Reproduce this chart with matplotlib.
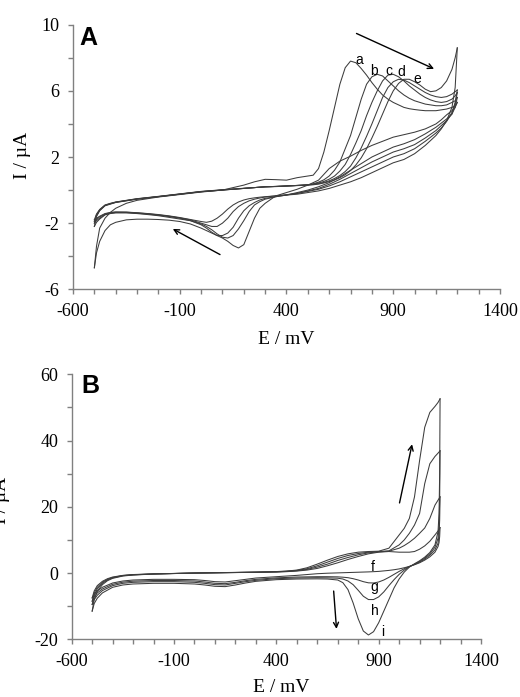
import matplotlib
matplotlib.use("Agg")
import matplotlib.pyplot as plt
from matplotlib.ticker import FixedLocator

plt.rcParams["font.family"] = ["Liberation Serif", "DejaVu Serif"]
plt.rcParams["axes.unicode_minus"] = False

# ---------------- Panel A data ----------------
E_fwd_A = [-500, -490, -475, -450, -425, -400, -350, -300, -200, -100, 0, 100, 200, 250, 300, 350, 400, 450, 500,
           525, 550, 575, 600, 625, 650, 675, 700, 725, 750, 775, 800, 825, 850, 875, 900, 925, 950, 975, 1000,
           1025, 1050, 1075, 1100, 1125, 1150, 1175, 1190, 1200]
I_fwd_a = [-4.7, -3.4, -2.3, -1.7, -1.35, -1.1, -0.8, -0.62, -0.42, -0.27, -0.12, 0.0, 0.3, 0.5, 0.65, 0.63, 0.6, 0.75, 0.85,
           0.9, 1.3, 2.3, 3.6, 5.0, 6.4, 7.4, 7.8, 7.7, 7.35, 6.95, 6.5, 6.1, 5.75, 5.5, 5.3, 5.15, 5.0, 4.92, 4.87,
           4.83, 4.8, 4.8, 4.8, 4.85, 4.9, 5.0, 5.1, 5.3]
I_fwd_b = [-2.2, -1.6, -1.25, -0.95, -0.85, -0.75, -0.65, -0.55, -0.4, -0.25, -0.1, 0.0, 0.1, 0.15, 0.2, 0.22, 0.25, 0.28, 0.32,
           0.38, 0.48, 0.62, 0.85, 1.2, 1.7, 2.5, 3.3, 4.4, 5.5, 6.4, 6.85, 7.0, 6.9, 6.6, 6.3, 6.0, 5.75, 5.55, 5.4,
           5.3, 5.2, 5.15, 5.1, 5.1, 5.15, 5.3, 5.4, 5.6]
I_fwd_c = [-2.0, -1.55, -1.22, -0.93, -0.83, -0.74, -0.64, -0.54, -0.4, -0.25, -0.1, 0.0, 0.1, 0.15, 0.2, 0.22, 0.25, 0.28, 0.32,
           0.36, 0.43, 0.52, 0.66, 0.85, 1.15, 1.55, 2.15, 2.85, 3.6, 4.5, 5.3, 6.0, 6.6, 6.95, 7.0, 6.85, 6.6, 6.3, 6.05,
           5.8, 5.6, 5.45, 5.35, 5.3, 5.35, 5.5, 5.7, 5.9]
I_fwd_d = [-1.9, -1.5, -1.2, -0.92, -0.82, -0.73, -0.63, -0.53, -0.39, -0.24, -0.09, 0.01, 0.1, 0.15, 0.2, 0.22, 0.25, 0.28, 0.31,
           0.34, 0.39, 0.46, 0.56, 0.7, 0.88, 1.12, 1.45, 1.95, 2.55, 3.25, 4.0, 4.8, 5.6, 6.2, 6.55, 6.7, 6.65, 6.5, 6.3,
           6.1, 5.9, 5.75, 5.65, 5.6, 5.65, 5.8, 5.95, 6.05]
I_fwd_e = [-1.8, -1.45, -1.17, -0.9, -0.8, -0.72, -0.62, -0.52, -0.38, -0.23, -0.08, 0.02, 0.11, 0.15, 0.19, 0.21, 0.24, 0.27, 0.3,
           0.32, 0.36, 0.43, 0.51, 0.61, 0.75, 0.93, 1.18, 1.52, 1.95, 2.5, 3.15, 3.85, 4.6, 5.35, 6.0, 6.45, 6.7, 6.7, 6.55,
           6.35, 6.1, 5.95, 6.0, 6.2, 6.6, 7.3, 8.0, 8.6]

E_rev_A = [1200, 1190, 1175, 1150, 1125, 1100, 1050, 1000, 950, 900, 850, 800, 750, 700, 650, 600, 550, 500, 450, 400,
           350, 300, 275, 250, 225, 200, 175, 150, 125, 100, 75, 50, 25, 0, -50, -100, -150, -200, -250, -300, -350,
           -400, -425, -450, -475, -490, -500]
I_rev_a = [5.3, 5.0, 4.8, 4.55, 4.25, 4.0, 3.7, 3.5, 3.35, 3.2, 2.95, 2.7, 2.4, 2.05, 1.75, 1.3, 0.6, 0.3, 0.05, -0.15,
           -0.35, -0.8, -1.1, -1.7, -2.5, -3.3, -3.5, -3.35, -3.1, -2.9, -2.75, -2.6, -2.45, -2.3, -2.05, -1.9, -1.82,
           -1.78, -1.76, -1.76, -1.8, -1.95, -2.1, -2.45, -3.1, -3.8, -4.7]
I_rev_b = [5.6, 5.0, 4.6, 4.3, 4.05, 3.8, 3.4, 3.05, 2.8, 2.6, 2.3, 2.0, 1.6, 1.2, 0.8, 0.45, 0.2, 0.0, -0.15, -0.3,
           -0.4, -0.55, -0.7, -0.9, -1.3, -1.85, -2.35, -2.75, -2.9, -2.85, -2.65, -2.4, -2.2, -2.05, -1.85, -1.75,
           -1.65, -1.55, -1.48, -1.42, -1.38, -1.38, -1.42, -1.5, -1.75, -1.95, -2.2]
I_rev_c = [5.9, 5.2, 4.6, 4.2, 3.9, 3.6, 3.15, 2.75, 2.5, 2.3, 2.0, 1.7, 1.35, 1.0, 0.65, 0.35, 0.1, -0.05, -0.2, -0.3,
           -0.4, -0.5, -0.6, -0.75, -0.95, -1.25, -1.7, -2.25, -2.6, -2.75, -2.75, -2.55, -2.3, -2.1, -1.85, -1.7,
           -1.6, -1.52, -1.45, -1.4, -1.36, -1.36, -1.4, -1.48, -1.7, -1.85, -2.0]
I_rev_d = [6.05, 5.3, 4.7, 4.15, 3.75, 3.45, 2.95, 2.5, 2.2, 2.0, 1.7, 1.4, 1.1, 0.8, 0.5, 0.25, 0.05, -0.08, -0.2, -0.28,
           -0.35, -0.42, -0.48, -0.55, -0.65, -0.8, -1.0, -1.3, -1.7, -2.0, -2.2, -2.2, -2.1, -2.0, -1.8, -1.68,
           -1.58, -1.5, -1.43, -1.38, -1.34, -1.34, -1.37, -1.45, -1.62, -1.78, -1.9]
I_rev_e = [8.6, 6.2, 5.0, 4.2, 3.7, 3.3, 2.7, 2.2, 1.85, 1.65, 1.35, 1.05, 0.75, 0.5, 0.3, 0.1, -0.05, -0.15, -0.25, -0.3,
           -0.35, -0.4, -0.43, -0.47, -0.52, -0.6, -0.72, -0.9, -1.15, -1.45, -1.7, -1.88, -1.95, -1.9, -1.78, -1.66,
           -1.56, -1.48, -1.42, -1.37, -1.33, -1.32, -1.35, -1.42, -1.58, -1.7, -1.8]

labels_A = ["a", "b", "c", "d", "e"]
label_E_A = [741, 809, 878, 939, 1012]
label_I_A = [7.86, 7.22, 7.22, 7.16, 6.7]
xticks = [-600, -100, 400, 900, 1400]
yticks_A = [-6, -2, 2, 6, 10]

# ---------------- Panel B data ----------------
E_fwd_B = [-500, -490, -475, -450, -425, -400, -350, -300, -200, -100, 0, 100, 200, 300, 400, 450, 500, 550, 600, 650,
           700, 750, 800, 850, 900, 950, 1000, 1025, 1050, 1075, 1100, 1125, 1150, 1175, 1190, 1200]
I_fwd_f = [-7.5, -5.4, -3.8, -2.5, -1.7, -1.2, -0.7, -0.45, -0.25, -0.12, 0.0, 0.08, 0.15, 0.22, 0.32, 0.42, 0.6, 0.9, 1.4, 2.2,
           3.1, 4.1, 5.0, 5.8, 6.3, 6.5, 6.3, 6.3, 6.3, 6.5, 7.2, 8.2, 9.6, 11.5, 12.7, 13.7]
I_fwd_g = [-8.5, -6.0, -4.3, -2.8, -1.9, -1.35, -0.75, -0.5, -0.27, -0.13, 0.0, 0.08, 0.16, 0.24, 0.35, 0.48, 0.7, 1.1, 1.8, 2.7,
           3.8, 4.7, 5.5, 6.1, 6.4, 6.6, 7.5, 8.3, 9.3, 10.5, 12.0, 13.6, 16.5, 20.5, 22.0, 23.0]
I_fwd_h = [-9.5, -6.8, -4.8, -3.1, -2.1, -1.45, -0.8, -0.55, -0.28, -0.14, 0.0, 0.09, 0.17, 0.26, 0.38, 0.55, 0.8, 1.3, 2.2, 3.3,
           4.4, 5.3, 5.9, 6.3, 6.5, 6.7, 8.5, 10.0, 12.0, 14.5, 18.0, 27.0, 33.0, 35.2, 36.2, 36.9]
I_fwd_i = [-11.5, -8.0, -5.5, -3.5, -2.3, -1.6, -0.9, -0.6, -0.3, -0.15, 0.0, 0.1, 0.2, 0.3, 0.45, 0.6, 0.9, 1.6, 2.7, 3.9,
           5.0, 5.8, 6.3, 6.5, 6.6, 7.5, 11.5, 13.5, 16.5, 23.0, 34.0, 44.0, 48.5, 50.3, 51.5, 52.6]

E_rev_B = [1200, 1198, 1195, 1190, 1175, 1150, 1125, 1100, 1075, 1050, 1025, 1000, 975, 950, 925, 900, 875, 850, 825,
           800, 775, 750, 725, 700, 650, 600, 500, 400, 300, 250, 200, 150, 100, 50, 0, -100, -200, -300, -350, -400,
           -450, -475, -490, -500]
I_rev_f = [13.7, 11.0, 9.2, 8.0, 6.3, 4.9, 3.9, 3.1, 2.5, 2.0, 1.6, 1.25, 1.0, 0.8, 0.65, 0.5, 0.42, 0.35, 0.3,
           0.25, 0.2, 0.15, 0.1, 0.05, -0.05, -0.2, -0.7, -1.1, -1.5, -1.9, -2.3, -2.7, -2.6, -2.25, -2.0, -1.9, -1.9,
           -2.1, -2.4, -3.0, -4.3, -5.4, -6.4, -7.5]
I_rev_g = [23.0, 16.0, 11.5, 9.0, 7.0, 5.4, 4.2, 3.3, 2.6, 2.0, 1.3, 0.5, -0.4, -1.3, -2.1, -2.7, -3.0, -2.95, -2.6,
           -2.1, -1.7, -1.4, -1.25, -1.15, -1.1, -1.1, -1.2, -1.45, -1.9, -2.3, -2.8, -3.2, -3.1, -2.7, -2.4, -2.25,
           -2.25, -2.45, -2.75, -3.4, -4.8, -6.0, -7.2, -8.5]
I_rev_h = [36.9, 22.0, 14.0, 10.5, 7.8, 5.8, 4.5, 3.5, 2.7, 1.9, 0.9, -0.4, -2.0, -3.8, -5.7, -7.2, -8.0, -8.0, -7.0,
           -5.2, -3.5, -2.4, -1.8, -1.55, -1.45, -1.4, -1.5, -1.7, -2.2, -2.6, -3.1, -3.6, -3.5, -3.1, -2.8, -2.6,
           -2.6, -2.8, -3.1, -3.8, -5.3, -6.7, -8.0, -9.5]
I_rev_i = [52.6, 30.0, 18.0, 12.5, 8.5, 6.2, 4.8, 3.7, 2.8, 1.8, 0.3, -1.8, -4.5, -8.0, -11.5, -15.0, -17.7, -18.7, -17.5,
           -13.8, -9.0, -5.0, -2.9, -2.1, -1.8, -1.75, -1.8, -2.0, -2.5, -3.0, -3.6, -4.1, -4.0, -3.6, -3.3, -3.1,
           -3.1, -3.3, -3.6, -4.3, -6.0, -7.6, -9.2, -11.5]

labels_B = ["f", "g", "h", "i"]
label_E_B = [869, 877, 882, 920]
label_I_B = [1.74, -4.3, -11.6, -17.7]
yticks_B = [-20, 0, 20, 40, 60]

# ---------------- Figure ----------------
W, H = 520, 697
fig = plt.figure(figsize=(W / 100, H / 100), dpi=100)

sans = "Liberation Sans"
LC = "#3c3c3c"
LW = 0.75
SPC = "#808080"


def make_axes(rect_px, ylim, ymaj, ystep):
    l, t, r, b = rect_px
    ax = fig.add_axes([l / W, 1 - b / H, (r - l) / W, (b - t) / H])
    ax.set_xlim(-600, 1400)
    ax.set_ylim(*ylim)
    ax.xaxis.set_major_locator(FixedLocator(xticks))
    ax.xaxis.set_minor_locator(FixedLocator(list(range(-600, 1401, 100))))
    ax.yaxis.set_major_locator(FixedLocator(ymaj))
    ax.yaxis.set_minor_locator(FixedLocator(
        [ylim[0] + k * ystep for k in range(int((ylim[1] - ylim[0]) / ystep) + 1)]))
    for s in ["top", "right"]:
        ax.spines[s].set_visible(False)
    for s in ["left", "bottom"]:
        ax.spines[s].set_color(SPC)
        ax.spines[s].set_linewidth(1.0)
    ax.tick_params(which="both", direction="out", length=3.8, width=1.0, color=SPC,
                   labelsize=13, labelcolor="black")
    ax.tick_params(axis="y", which="major", pad=6)
    ax.tick_params(axis="x", which="major", pad=6)
    return ax


# Panel A
axA = make_axes((73, 24.7, 500, 289.3), (-6, 10), yticks_A, 2)
fwdA = [I_fwd_a, I_fwd_b, I_fwd_c, I_fwd_d, I_fwd_e]
revA = [I_rev_a, I_rev_b, I_rev_c, I_rev_d, I_rev_e]
for fw, rv in zip(fwdA, revA):
    axA.plot(E_fwd_A, fw, color=LC, lw=LW)
    axA.plot(E_rev_A, rv, color=LC, lw=LW)
for t, x, y in zip(labels_A, label_E_A, label_I_A):
    axA.text(x, y, t, fontsize=10, family=sans, ha="center", va="center")
axA.annotate("", xy=(1103, 7.26), xytext=(716, 9.54),
             arrowprops=dict(arrowstyle="->", color="black", lw=1.0, mutation_scale=9))
axA.annotate("", xy=(-144, -2.27), xytext=(100, -3.98),
             arrowprops=dict(arrowstyle="->", color="black", lw=1.0, mutation_scale=9))
axA.text(0.016, 0.995, "A", transform=axA.transAxes, fontsize=18, fontweight="bold",
         family=sans, ha="left", va="top")
axA.set_xlabel("E / mV", fontsize=14)
axA.set_ylabel("I / \u00b5A", fontsize=14)
axA.xaxis.set_label_coords(0.5, -0.158)
axA.yaxis.set_label_coords(-0.0995, 0.507)

# Panel B
axB = make_axes((71.7, 374.3, 481, 639.3), (-20, 60), yticks_B, 10)
fwdB = [I_fwd_f, I_fwd_g, I_fwd_h, I_fwd_i]
revB = [I_rev_f, I_rev_g, I_rev_h, I_rev_i]
for fw, rv in zip(fwdB, revB):
    axB.plot(E_fwd_B, fw, color=LC, lw=LW)
    axB.plot(E_rev_B, rv, color=LC, lw=LW)
for t, x, y in zip(labels_B, label_E_B, label_I_B):
    axB.text(x, y, t, fontsize=10, family=sans, ha="center", va="center")
axB.annotate("", xy=(1066, 39.7), xytext=(999, 20.35),
             arrowprops=dict(arrowstyle="->", color="black", lw=1.0, mutation_scale=9))
axB.annotate("", xy=(695, -17.7), xytext=(679, -4.6),
             arrowprops=dict(arrowstyle="->", color="black", lw=1.0, mutation_scale=9))
axB.text(0.024, 1.0, "B", transform=axB.transAxes, fontsize=18, fontweight="bold",
         family=sans, ha="left", va="top")
axB.set_xlabel("E / mV", fontsize=14)
axB.set_ylabel("I / \u00b5A", fontsize=14)
axB.xaxis.set_label_coords(0.513, -0.15)
axB.yaxis.set_label_coords(-0.151, 0.526)

fig.savefig("out.png", dpi=100)
